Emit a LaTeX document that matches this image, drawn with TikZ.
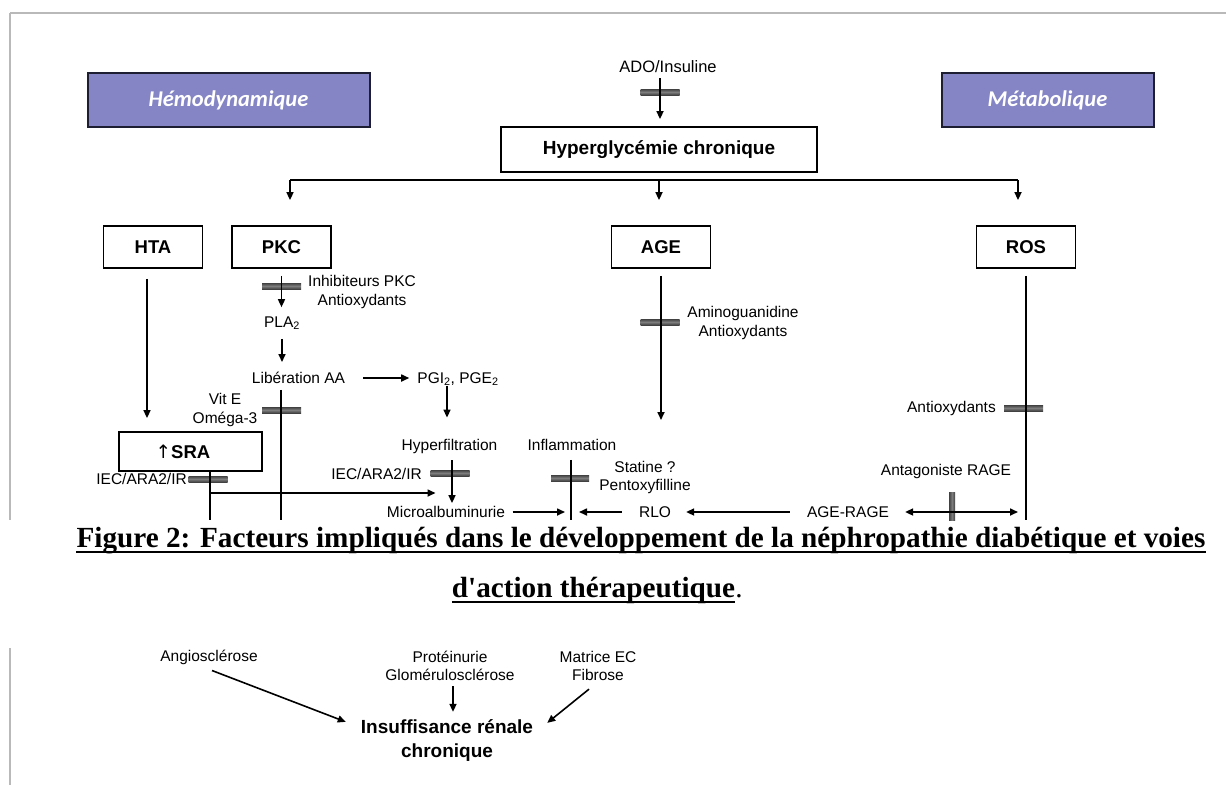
\documentclass[tikz,border=0pt]{standalone}
\usepackage{fontspec}
\setmainfont{Liberation Sans}
\newfontfamily\headfont{Carlito}
\newfontfamily\capfont{Liberation Serif}
\newfontfamily\symbfont{DejaVu Sans}
\usetikzlibrary{arrows.meta}
\definecolor{headfill}{RGB}{133,133,197}
\definecolor{headline}{RGB}{30,30,50}
\definecolor{bardark}{RGB}{65,65,65}
\definecolor{barmid}{RGB}{125,125,125}
\definecolor{framegray}{RGB}{185,185,185}

\begin{document}
\begin{tikzpicture}[x=1pt, y=-1pt,
	box/.style={draw, line width=1.8pt, minimum width=99pt, minimum height=42pt, inner sep=0pt, font=\bfseries\fontsize{18.5}{22}\selectfont},
	head/.style={draw=headline, line width=2pt, fill=headfill, minimum height=54pt, inner sep=0pt, text=white, font=\headfont\bfseries\itshape\fontsize{22.5}{26}\selectfont},
	lbl/.style={inner sep=0pt, align=center, font=\fontsize{15.5}{18.5}\selectfont},
	bar/.style={minimum width=39pt, minimum height=6pt, inner sep=0pt, top color=bardark, bottom color=bardark, middle color=barmid},
	vbar/.style={minimum width=6pt, minimum height=28pt, inner sep=0pt, left color=bardark, right color=bardark, middle color=barmid},
	ln/.style={line width=1.6pt},
	arr/.style={line width=1.6pt, -{Triangle[length=8pt,width=7pt]}},
	captext/.style={inner sep=0pt, font=\capfont\bfseries\fontsize{29.2}{34}\selectfont}]
	\useasboundingbox (0,0) rectangle (1226,785);
	\draw[framegray, line width=2.5pt] (10,13) -- (1226,13) (10,13) -- (10,520) (10,648) -- (10,785);
	\coordinate (edge) at (0,520);

	% headers
	\node[head, minimum width=282pt] (hemo) at (228.5,100) {Hémodynamique};
	\node[head, minimum width=212pt] (meta) at (1047.5,100) {Métabolique};

	\node[lbl, font=\fontsize{16.5}{19}\selectfont] (ado) at (668,67) {ADO/Insuline};
	\node[box, minimum width=316pt, minimum height=45pt, font=\bfseries\fontsize{19}{22}\selectfont] (hyper) at (659,149.5) {Hyperglycémie chronique};
	\node[bar] (b0) at (660,92) {};
	\draw[arr, shorten <=5pt, shorten >=7pt] (b0 |- ado.south) -- (b0 |- hyper.north);

	\node[box] (hta) at (153,247) {HTA};
	\node[box] (pkc) at (281.5,247) {PKC};
	\node[box] (age) at (661,247) {AGE};
	\node[box] (ros) at (1026,247) {ROS};

	\coordinate (busL) at (290,180);
	\coordinate (busR) at (1018,180);
	\draw[line width=2pt] (busL) -- (busR);
	\draw[arr, shorten >=25pt] (busL) -- (busL |- pkc.north);
	\draw[arr, shorten >=25pt] (hyper.south |- busL) -- (hyper.south |- age.north);
	\draw[arr, shorten >=25pt] (busR) -- (busR |- ros.north);

	% HTA / SRA
	\node[box, minimum width=143pt, minimum height=39pt] (sra) at (190.5,451.5) {{\symbfont\mdseries ↑}SRA\hspace*{15pt}};
	\draw[arr, shorten <=10pt, shorten >=13pt] ([xshift=-6pt]hta.south) -- ([xshift=-6pt]hta.south |- sra.north);
	\node[bar] (b3) at (208,479) {};
	\node[lbl, anchor=east] (iec1) at (187,479) {IEC/ARA2/IR};
	\draw[ln] ([xshift=19.5pt]sra.south) -- ([xshift=19.5pt]sra.south |- edge);

	% PKC
	\node[lbl] (pla) at (282,323) {PLA\textsubscript{2}};
	\node[lbl] (lib) at (298.5,378) {Libération AA};
	\node[lbl] (pgi) at (458,379) {PGI\textsubscript{2}, PGE\textsubscript{2}};
	\node[lbl] (hyf) at (449.5,446) {Hyperfiltration};
	\node[lbl] (micro) at (446,512) {Microalbuminurie};
	\node[lbl, anchor=west] (inhpkc) at (308,292) {Inhibiteurs PKC\\Antioxydants};
	\node[lbl] (vite) at (225,410) {Vit E\\Oméga-3};
	\node[bar] (b1) at (281.5,286) {};
	\node[bar] (b2) at (281.5,410) {};
	\draw[arr, shorten <=7pt, shorten >=9pt] (pkc.south) -- (pkc.south |- pla.north);
	\draw[arr, shorten <=9pt, shorten >=10pt] (pla.south) -- (pla.south |- lib.north);
	\draw[arr, shorten <=18pt, shorten >=8pt] (lib.east) -- (lib.east -| pgi.west);
	\draw[arr, shorten >=21pt] ([xshift=-11pt]pgi.south) -- ([xshift=-11pt]pgi.south |- hyf.north);
	\draw[ln, shorten <=6pt] ([xshift=-17.5pt]lib.south) -- ([xshift=-17.5pt]lib.south |- edge);

	\node[bar] (b4) at (450,473) {};
	\node[lbl, anchor=east] (iec2) at (422,474) {IEC/ARA2/IR};
	\draw[arr, shorten <=7pt, shorten >=3pt] ([xshift=2.5pt]hyf.south) -- ([xshift=2.5pt]hyf.south |- micro.north);
	\coordinate (sraj) at (210,493);
	\draw[arr, shorten >=14pt] (sraj) -- (sraj -| hyf.south);

	% AGE
	\node[bar] (b6) at (660,322) {};
	\node[lbl] (amino) at (743,323) {Aminoguanidine\\Antioxydants};
	\coordinate (agetip) at (662,420);
	\draw[arr, shorten <=7pt] (age.south) -- (age.south |- agetip);

	% inflammation
	\node[lbl] (infl) at (572,445) {Inflammation};
	\node[bar, minimum width=38pt] (b5) at (570,478) {};
	\node[lbl] (stat) at (645,477.5) {Statine ?\\Pentoxyfilline};
	\draw[ln, shorten <=9pt] ([xshift=-1pt]infl.south) -- ([xshift=-1pt]infl.south |- edge);

	% ROS
	\node[bar] (b7) at (1023.5,408) {};
	\node[lbl, anchor=east] (antiox) at (996,408) {Antioxydants};
	\node[lbl] (antag) at (946,471) {Antagoniste RAGE};
	\draw[ln, shorten <=7pt] (ros.south) -- (ros.south |- edge);

	% bottom row
	\node[lbl] (rlo) at (655,512) {RLO};
	\node[lbl] (agerage) at (848,512) {AGE-RAGE};
	\node[vbar] (b8) at (952,506) {};
	\draw[arr, shorten <=7.5pt, shorten >=7pt] (micro.east) -- (micro.east -| infl.south);
	\draw[arr, shorten <=17pt, shorten >=7pt] (rlo.west) -- (rlo.west -| infl.south);
	\draw[arr, shorten <=17pt, shorten >=15pt] (agerage.west) -- (rlo.east);
	\draw[line width=1.6pt, {Triangle[length=8pt,width=7pt]}-{Triangle[length=8pt,width=7pt]}, shorten <=16pt, shorten >=8pt] (agerage.east) -- (agerage.east -| ros.south);

	% caption
	\node[captext, anchor=base] (cap1) at (641,547) {Figure 2: Facteurs impliqués dans le développement de la néphropathie diabétique et voies};
	\draw[line width=2pt] ([yshift=-5pt]cap1.base west) -- ([yshift=-5pt]cap1.base east);
	\node[captext, anchor=base] (cap2) at (593.5,597) {d'action thérapeutique};
	\node[captext, anchor=base west, font=\capfont\fontsize{29.2}{34}\selectfont] (capdot) at (cap2.base east) {.};
	\draw[line width=2pt] ([yshift=-5pt]cap2.base west) -- ([yshift=-5pt]cap2.base east);

	% lower part
	\node[lbl] (angio) at (209,657) {Angiosclérose};
	\node[lbl] (prot) at (450,666) {Protéinurie\\Glomérulosclérose};
	\node[lbl] (matrice) at (598,666) {Matrice EC\\Fibrose};
	\node[lbl, font=\bfseries\fontsize{19}{24}\selectfont] (irc) at (447,740) {Insuffisance rénale\\chronique};
	\draw[arr] ([xshift=3pt, yshift=-6pt]angio.south) -- ([xshift=-15pt, yshift=-3pt]irc.north west);
	\draw[arr, shorten <=5pt, shorten >=7pt] ([xshift=3pt]prot.south) -- ([xshift=3pt]prot.south |- irc.north);
	\draw[arr] ([xshift=-9pt, yshift=-8pt]matrice.south) -- ([xshift=14pt, yshift=-4pt]irc.north east);
\end{tikzpicture}
\end{document}
